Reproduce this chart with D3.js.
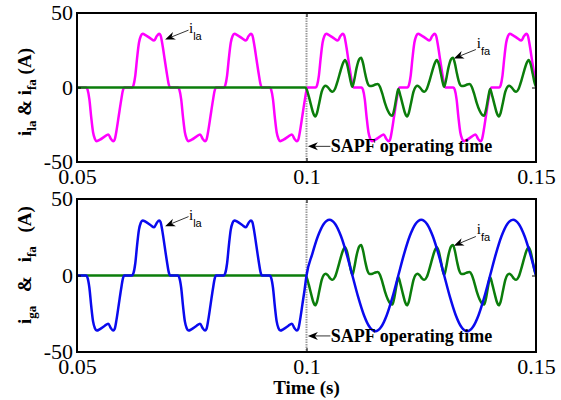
<!DOCTYPE html>
<html>
<head>
<meta charset="utf-8">
<script src="https://cdn.jsdelivr.net/npm/d3@7"></script>
<style>
  body { margin: 0; background: #fff; }
  text { font-family: "Liberation Serif", "Times New Roman", serif; }
</style>
</head>
<body>
<svg id="chart" width="561" height="400"></svg>
<script>
// axes
const xDomain = [0.05, 0.15];
const xTicks = [0.05, 0.1, 0.15];
const xTickLabels = ["0.05", "0.1", "0.15"];
const yTicks = [-50, 0, 50];
const yTickLabels = ["-50", "0", "50"];
const sapfTime = 0.1;

// load current: one rectifier pulse (seconds after pulse start, amps)
const pulseShape = [[0, 0], [0.0003, 1.5], [0.0007, 8], [0.0011, 20], [0.0015, 30], [0.0019, 34.5],
  [0.0023, 36], [0.0030, 35], [0.0040, 33], [0.0048, 31.5], [0.0054, 34.5], [0.0059, 36],
  [0.0062, 35], [0.0066, 29], [0.0071, 19], [0.0076, 9], [0.0080, 2], [0.0083, 0]];
const pulseStarts = [0.052, 0.062, 0.072, 0.082, 0.092, 0.102, 0.112, 0.122, 0.132, 0.142];
const pulseSigns = [-1, 1, -1, 1, -1, 1, -1, 1, -1, 1];

// filter current: one cycle (seconds after cycle start, amps)
const filterCycle = [[0, -1], [0.0005, -6], [0.0010, -12], [0.0015, -17.5], [0.0019, -19.5],
  [0.0023, -17], [0.0028, -10], [0.0033, -3], [0.0038, 0.5], [0.0042, 1.2], [0.0047, 0],
  [0.0052, -2], [0.0057, -2.8], [0.0062, -1], [0.0068, 4.5], [0.0074, 11], [0.0079, 16],
  [0.0084, 18.5], [0.0088, 16], [0.0093, 9], [0.0097, 3], [0.0100, 0.5], [0.0104, 5],
  [0.0109, 13], [0.0115, 19], [0.0119, 20], [0.0123, 16.5], [0.0128, 9], [0.0133, 3],
  [0.0138, 1], [0.0144, 1.2], [0.0150, 2], [0.0155, 2.3], [0.0160, 0.5], [0.0165, -4],
  [0.0171, -10.5], [0.0177, -15.5], [0.0183, -18.5], [0.0187, -19], [0.0191, -15],
  [0.0196, -6.5]];
const filterCycleStarts = [0.10, 0.12, 0.14];

// grid current after compensation
const gridSine = [[0.1, 0], [0.10125, 14], [0.1025, 25.8], [0.10375, 33.7], [0.105, 36.5],
  [0.10625, 33.7], [0.1075, 25.8], [0.10875, 14], [0.11, 0], [0.11125, -14], [0.1125, -25.8],
  [0.11375, -33.7], [0.115, -36.5], [0.11625, -33.7], [0.1175, -25.8], [0.11875, -14],
  [0.12, 0], [0.12125, 14], [0.1225, 25.8], [0.12375, 33.7], [0.125, 36.5], [0.12625, 33.7],
  [0.1275, 25.8], [0.12875, 14], [0.13, 0], [0.13125, -14], [0.1325, -25.8], [0.13375, -33.7],
  [0.135, -36.5], [0.13625, -33.7], [0.1375, -25.8], [0.13875, -14], [0.14, 0], [0.14125, 14],
  [0.1425, 25.8], [0.14375, 33.7], [0.145, 36.5], [0.14625, 33.7], [0.1475, 25.8],
  [0.14875, 14], [0.15, 0]];

function buildLoad(tMax) {
  const pts = [[0.05, 0]];
  pulseStarts.forEach((s, i) => {
    pulseShape.forEach(([dt, v]) => {
      const t = s + dt;
      if (t <= tMax) pts.push([t, pulseSigns[i] * v]);
    });
  });
  return pts;
}

const loadCurrent = buildLoad(0.1501);
const filterCurrent = [[0.05, 0], [0.0997, 0]];
filterCycleStarts.forEach(c => {
  filterCycle.forEach(([dt, v]) => {
    if (c + dt <= 0.1501) filterCurrent.push([c + dt, v]);
  });
});
const gridCurrent = buildLoad(0.0999).concat(gridSine);

const svg = d3.select('#chart');
const x = d3.scaleLinear().domain(xDomain).range([77, 536]);

const panels = [
  {
    top: 13, bottom: 162, ylab: 'l', ylabY: 92, gap: 0,
    series: [
      { data: loadCurrent, color: '#ff00ff' },
      { data: filterCurrent, color: '#0b7d0b' }
    ]
  },
  {
    top: 199, bottom: 352, ylab: 'g', ylabY: 265, gap: 9,
    series: [
      { data: filterCurrent, color: '#0b7d0b' },
      { data: gridCurrent, color: '#0a0aee' }
    ]
  }
];

function arrow(g, x1, y1, x2, y2) {
  const dx = x2 - x1, dy = y2 - y1, len = Math.hypot(dx, dy);
  const ux = dx / len, uy = dy / len, nx = -uy, ny = ux;
  const L = 10, w = 4, notch = 3;
  g.append('line')
    .attr('x1', x1).attr('y1', y1)
    .attr('x2', x2 - ux * (L - notch)).attr('y2', y2 - uy * (L - notch))
    .attr('stroke', '#000').attr('stroke-width', 0.8);
  g.append('path')
    .attr('d', `M${x2},${y2}L${x2 - ux * L + nx * w},${y2 - uy * L + ny * w}` +
      `L${x2 - ux * (L - notch)},${y2 - uy * (L - notch)}` +
      `L${x2 - ux * L - nx * w},${y2 - uy * L - ny * w}Z`)
    .attr('fill', '#000');
}

function subLabel(g, px, py, sub) {
  const t = g.append('text').attr('x', px).attr('y', py).attr('fill', '#000');
  t.append('tspan').text('i').style('font-size', '15px');
  t.append('tspan').text(sub).attr('dy', 7)
    .style('font-size', '11px').style('font-family', '"Liberation Sans", Arial, sans-serif');
}

panels.forEach((p, idx) => {
  const y = d3.scaleLinear().domain([-50, 50]).range([p.bottom, p.top]);
  const g = svg.append('g');

  const clipId = 'clip' + idx;
  svg.append('clipPath').attr('id', clipId)
    .append('rect').attr('x', x(0.05)).attr('y', p.top)
    .attr('width', x(0.15) - x(0.05)).attr('height', p.bottom - p.top);

  // SAPF switch-on marker
  g.append('line')
    .attr('x1', x(sapfTime)).attr('x2', x(sapfTime))
    .attr('y1', p.top).attr('y2', p.bottom)
    .attr('stroke', '#9a9a9a').attr('stroke-width', 2)
    .attr('stroke-dasharray', '1.5,1');

  const line = d3.line()
    .x(d => x(d[0])).y(d => y(d[1]))
    .curve(d3.curveMonotoneX);

  p.series.forEach(s => {
    g.append('path')
      .datum(s.data)
      .attr('clip-path', `url(#${clipId})`)
      .attr('d', line)
      .attr('fill', 'none')
      .attr('stroke', s.color)
      .attr('stroke-width', 2.5)
      .attr('stroke-linejoin', 'round');
  });

  // axes, ticks inward
  const fmtX = (d, i) => xTickLabels[i];
  const fmtY = (d, i) => yTickLabels[i];
  const bottomAxis = g.append('g').attr('transform', `translate(0,${p.bottom})`)
    .call(d3.axisBottom(x).tickValues(xTicks).tickFormat(fmtX).tickSize(-4).tickPadding(6));
  const leftAxis = g.append('g').attr('transform', `translate(${x(0.05)},0)`)
    .call(d3.axisLeft(y).tickValues(yTicks).tickFormat(fmtY).tickSize(-4).tickPadding(4));
  g.append('g').attr('transform', `translate(0,${p.top})`)
    .call(d3.axisTop(x).tickValues(xTicks).tickFormat('').tickSize(-4));
  g.append('g').attr('transform', `translate(${x(0.15)},0)`)
    .call(d3.axisRight(y).tickValues(yTicks).tickFormat('').tickSize(-4));
  g.selectAll('.domain').remove();
  g.selectAll('.tick line').attr('stroke', '#000').attr('stroke-width', 1);
  g.selectAll('.tick text')
    .style('font-family', '"Liberation Serif", "Times New Roman", serif')
    .style('font-size', '22px').attr('fill', '#000');
  bottomAxis.selectAll('.tick text').attr('dy', '0.72em');
  leftAxis.selectAll('.tick text').attr('dy', '0.3em');

  g.append('rect')
    .attr('x', x(0.05)).attr('y', p.top)
    .attr('width', x(0.15) - x(0.05)).attr('height', p.bottom - p.top)
    .attr('fill', 'none').attr('stroke', '#000').attr('stroke-width', 2);

  // annotations
  subLabel(g, x(0.0744), y(36.3), 'la');
  arrow(g, x(0.0743), y(38.5), x(0.0692), y(32.2));
  subLabel(g, x(0.1371), y(26.8), 'fa');
  arrow(g, x(0.1369), y(25.5), x(0.1321), y(19.5));
  arrow(g, x(0.1052), y(-39.5), x(0.1003), y(-39.5));
  g.append('text')
    .attr('x', x(0.1053)).attr('y', y(-43.6))
    .style('font-size', '18px').style('font-weight', 'bold')
    .text('SAPF operating time');

  // y label
  const yl = g.append('text')
    .attr('transform', `translate(31,${p.ylabY}) rotate(-90)`)
    .attr('text-anchor', 'middle')
    .style('font-size', '19px').style('font-weight', 'bold');
  yl.append('tspan').text('i');
  yl.append('tspan').text(p.ylab + 'a').attr('dy', 5).style('font-size', '13px');
  yl.append('tspan').text(' &').attr('dy', -5).attr('dx', p.gap);
  yl.append('tspan').text(' i').attr('dx', p.gap);
  yl.append('tspan').text('fa').attr('dy', 5).style('font-size', '13px');
  yl.append('tspan').text(' (A)').attr('dy', -5).attr('dx', p.gap);
});

svg.append('text')
  .attr('x', x(0.1)).attr('y', 394)
  .attr('text-anchor', 'middle')
  .style('font-size', '19px').style('font-weight', 'bold')
  .text('Time (s)');
</script>
</body>
</html>
